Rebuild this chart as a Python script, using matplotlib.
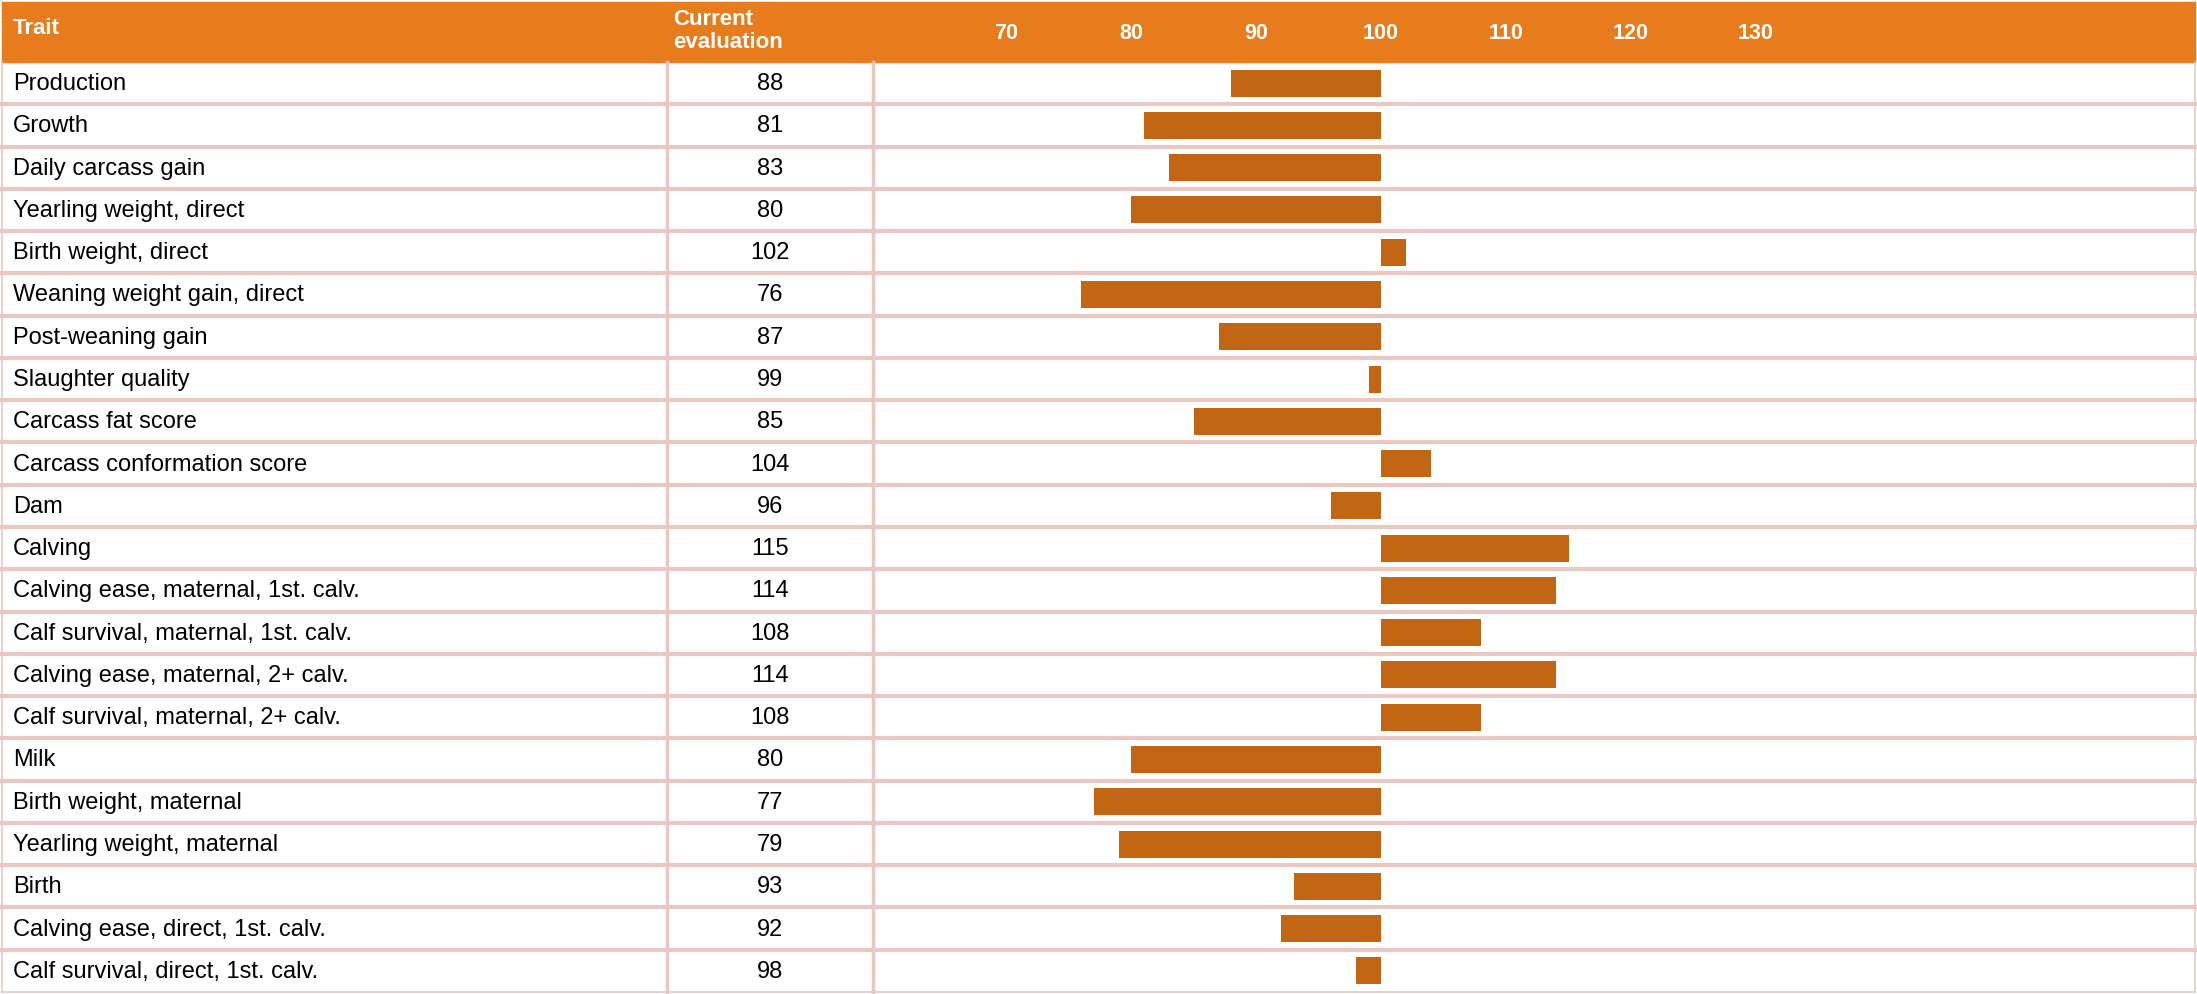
import matplotlib.pyplot as plt
from matplotlib.transforms import blended_transform_factory
from matplotlib.patches import Rectangle

plt.rcParams['font.family'] = ['Liberation Sans', 'DejaVu Sans']

traits = ["Production", "Growth", "Daily carcass gain", "Yearling weight, direct",
          "Birth weight, direct", "Weaning weight gain, direct", "Post-weaning gain",
          "Slaughter quality", "Carcass fat score", "Carcass conformation score", "Dam",
          "Calving", "Calving ease, maternal, 1st. calv.", "Calf survival, maternal, 1st. calv.",
          "Calving ease, maternal, 2+ calv.", "Calf survival, maternal, 2+ calv.", "Milk",
          "Birth weight, maternal", "Yearling weight, maternal", "Birth",
          "Calving ease, direct, 1st. calv.", "Calf survival, direct, 1st. calv."]
evaluation = [88, 81, 83, 80, 102, 76, 87, 99, 85, 104, 96,
              115, 114, 108, 114, 108, 80, 77, 79, 93, 92, 98]
ticks = [70, 80, 90, 100, 110, 120, 130]
base = 100

W, H = 2197, 995
orange = '#E87C1C'
bar_color = '#C26614'
grid_color = '#E9C7C3'

fig = plt.figure(figsize=(W / 100, H / 100), dpi=100)

# column edges in pixels
x_left, x_col1, x_col2, x_right = 2, 667, 873, 2195
y_head_top, y_head_bot, y_bot = 3, 63, 993

def fx(px):
    return px / W

def fy(py):
    return 1 - py / H

# header band (below the axes so tick labels show on top)
fig.patches.append(Rectangle((fx(x_left), fy(y_head_bot)), fx(x_right - x_left),
                             (y_head_bot - y_head_top) / H, transform=fig.transFigure,
                             color=orange, zorder=-1))

ax = fig.add_axes([fx(x_col2), fy(y_bot), fx(x_right - x_col2), (y_bot - y_head_bot) / H])
ax.patch.set_alpha(0)
# 100 sits at pixel 1381, 12.5 px per unit
scale = 12.5
ax.set_xlim(base - (1381 - x_col2) / scale, base + (x_right - 1381) / scale)
n = len(traits)
ax.set_ylim(n - 0.5, -0.5)

rows = range(n)
ax.barh(rows, [v - base for v in evaluation], left=base, height=0.64, color=bar_color, zorder=3)

ax.xaxis.tick_top()
ax.set_xticks(ticks)
ax.set_xticklabels([str(t) for t in ticks], fontsize=15.5, fontweight='bold', color='white')
ax.tick_params(axis='x', length=0, pad=14)
ax.set_yticks([])
for s in ax.spines.values():
    s.set_visible(False)

tr = blended_transform_factory(fig.transFigure, ax.transData)
for i in rows:
    fig.text(fx(13), i, traits[i], transform=tr, ha='left', va='center', fontsize=17)
    fig.text(fx((x_col1 + x_col2) / 2), i, str(evaluation[i]), transform=tr,
             ha='center', va='center', fontsize=17)

# row separators
for i in range(n):
    y = i + 0.5
    lw = 3.0 if i < n - 1 else 1.2
    fig.add_artist(plt.Line2D([fx(x_left), fx(x_right)], [y, y], transform=tr,
                              color=grid_color, lw=lw, zorder=1))
# vertical separators
for px, lw in [(x_left, 1.2), (x_col1, 2.5), (x_col2, 2.5), (x_right, 1.2)]:
    fig.add_artist(plt.Line2D([fx(px), fx(px)], [fy(y_head_bot), fy(y_bot)],
                              transform=fig.transFigure, color=grid_color, lw=lw, zorder=1))

# header labels
fig.text(fx(13), fy(29), "Trait", ha='left', va='center', fontsize=16,
         fontweight='bold', color='white')
fig.text(fx(673), fy(31), "Current\nevaluation", ha='left', va='center', fontsize=16,
         fontweight='bold', color='white', linespacing=1.1)

fig.savefig('out.png', dpi=100)
